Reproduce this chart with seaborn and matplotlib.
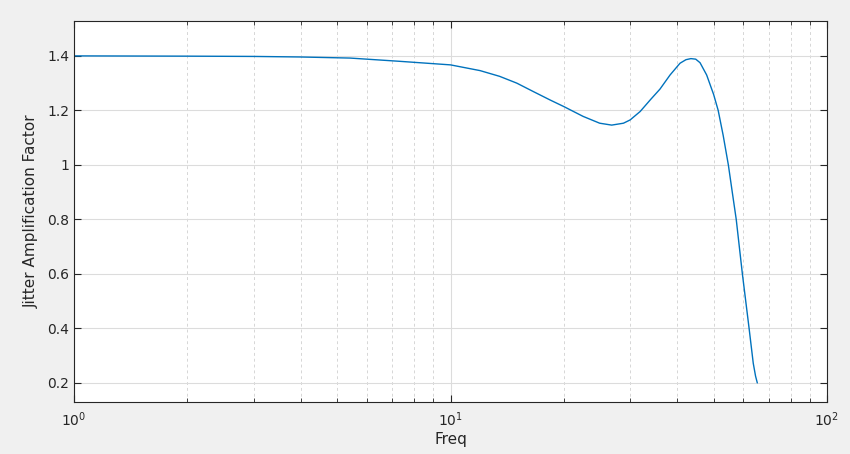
import numpy as np
import pandas as pd
import matplotlib
matplotlib.use("Agg")
import matplotlib.pyplot as plt
import matplotlib.ticker as mticker
import seaborn as sns

freq = [1, 2, 3, 3.98, 5.41, 7.34, 10, 11.98, 13.5, 15.0, 16.6, 18.4, 20.0, 22.5,
        24.9, 26.8, 28.8, 30, 31.9, 34.0, 36, 38.3, 40.7, 42.2, 43.5, 44.8, 46.0,
        47.9, 50.0, 51.4, 53.0, 54.7, 56.0, 57.4, 59.6, 62.1, 63.7, 64.6, 65.3]
amp = [1.400, 1.399, 1.398, 1.396, 1.392, 1.380, 1.367, 1.346, 1.325, 1.300, 1.269,
       1.238, 1.214, 1.178, 1.153, 1.146, 1.153, 1.165, 1.196, 1.240, 1.278, 1.330,
       1.373, 1.386, 1.390, 1.388, 1.375, 1.330, 1.258, 1.200, 1.108, 1.000, 0.902,
       0.800, 0.600, 0.400, 0.272, 0.225, 0.200]

df = pd.DataFrame({"Freq": freq, "Amp": amp})

sns.set_theme(style="white")
plt.rcParams['font.family'] = ['DejaVu Sans']

fig = plt.figure(figsize=(8.5, 4.54), dpi=100, facecolor="#f0f0f0")
ax = fig.add_axes([74/850, 52/454, (827-74)/850, (402-21)/454])
ax.set_facecolor("white")

sns.lineplot(data=df, x="Freq", y="Amp", ax=ax, color="#0072BD", linewidth=1.0,
             sort=False, estimator=None)

ax.set_xscale("log")
ax.set_xlim(1, 100)
ax.set_ylim(0.13, 1.528)
ax.set_yticks([0.2, 0.4, 0.6, 0.8, 1.0, 1.2, 1.4])
ax.yaxis.set_major_formatter(mticker.FuncFormatter(lambda v, p: ("%g" % v)))
ax.xaxis.set_major_locator(mticker.LogLocator(base=10, numticks=10))
ax.xaxis.set_minor_locator(mticker.LogLocator(base=10, subs=np.arange(2, 10), numticks=20))
ax.xaxis.set_minor_formatter(mticker.NullFormatter())

ax.set_axisbelow(True)
ax.grid(True, which="major", axis="both", color="#dcdcdc", linewidth=0.8, linestyle="-")
ax.grid(True, which="minor", axis="x", color="#d6d6d6", linewidth=0.7, linestyle=(0, (3, 3)))

for s in ax.spines.values():
    s.set_color("#262626")
    s.set_linewidth(0.8)

ax.tick_params(axis="both", which="major", direction="in", length=5, width=0.8,
               colors="#262626", labelsize=10, top=True, right=True,
               bottom=True, left=True)
ax.tick_params(axis="x", which="minor", direction="in", length=3, width=0.6,
               colors="#262626", top=True, bottom=True)
ax.tick_params(axis="x", which="major", pad=6)
for lbl in ax.get_xticklabels() + ax.get_yticklabels():
    lbl.set_color("#262626")

ax.set_xlabel("Freq", fontsize=11, color="#262626", labelpad=2)
ax.set_ylabel("Jitter Amplification Factor", fontsize=11, color="#262626", labelpad=6)

fig.savefig("out.png", dpi=100, facecolor=fig.get_facecolor())
